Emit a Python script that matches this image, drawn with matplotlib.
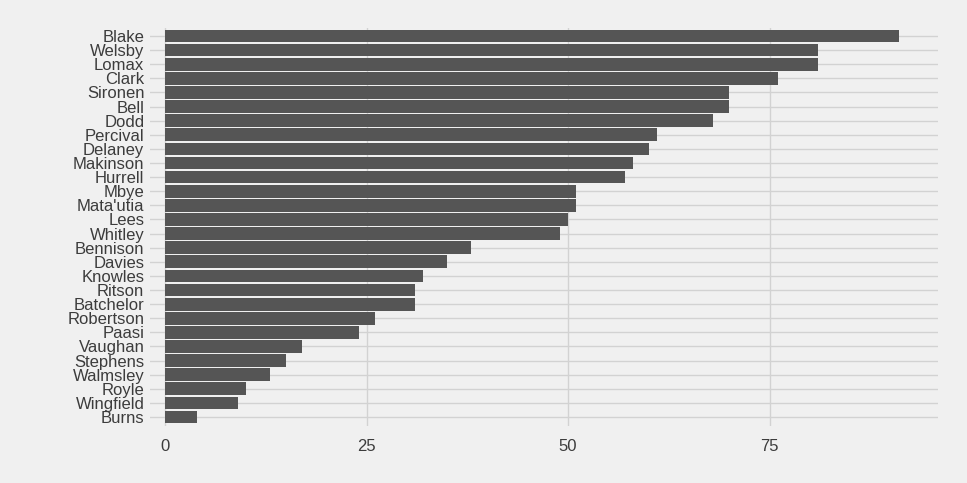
import matplotlib
matplotlib.use('Agg')
import matplotlib.pyplot as plt

BG = '#F0F0F0'
BAR = '#555555'
GRID = '#D2D2D2'
TEXT = '#3C3C3C'

plt.rcParams['font.family'] = ['Liberation Sans', 'DejaVu Sans']

players = ['Blake', 'Welsby', 'Lomax', 'Clark', 'Sironen', 'Bell', 'Dodd',
           'Percival', 'Delaney', 'Makinson', 'Hurrell', 'Mbye', "Mata'utia",
           'Lees', 'Whitley', 'Bennison', 'Davies', 'Knowles', 'Ritson',
           'Batchelor', 'Robertson', 'Paasi', 'Vaughan', 'Stephens',
           'Walmsley', 'Royle', 'Wingfield', 'Burns']
values = [91, 81, 81, 76, 70, 70, 68, 61, 60, 58, 57, 51, 51, 50, 49, 38,
          35, 32, 31, 31, 26, 24, 17, 15, 13, 10, 9, 4]
xticks = [0, 25, 50, 75]

fig = plt.figure(figsize=(9.67, 4.83), dpi=100, facecolor=BG)
ax = fig.add_axes([0.155, 0.119, 0.815, 0.824], facecolor=BG)

pos = list(range(len(players)))[::-1]
ax.barh(pos, values, height=0.9, color=BAR, zorder=2)

ax.set_yticks(pos)
ax.set_yticklabels(players, fontsize=12, color=TEXT)
ax.set_xticks(xticks)
ax.set_xticklabels([str(t) for t in xticks], fontsize=12, color=TEXT)
ax.set_xlim(-1.9, 95.9)
ax.set_ylim(-0.6, len(players) - 0.4)

ax.grid(True, color=GRID, linewidth=1, zorder=0)
ax.set_axisbelow(True)
ax.tick_params(length=0, pad=4)
ax.tick_params(axis='x', pad=10)
for s in ax.spines.values():
    s.set_visible(False)

fig.savefig('out.png', dpi=100, facecolor=BG)
